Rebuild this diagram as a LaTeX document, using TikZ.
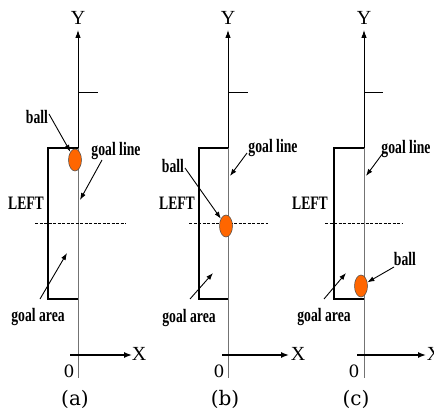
\documentclass[tikz,border=0pt]{standalone}
\usepackage{fontspec}
\setmainfont{Liberation Serif}
\newfontfamily\lblfont[FakeStretch=0.72]{Liberation Serif}
\newfontfamily\capfont{DejaVu Serif}
\usetikzlibrary{arrows.meta,shapes.geometric}
\definecolor{ballorange}{RGB}{255,102,0}
\begin{document}
\begin{tikzpicture}[x=1pt,y=-1pt,
  axisblack/.style={line width=0.9pt,black},
  axisgray/.style={line width=0.7pt,black!55},
  goalbox/.style={line width=1.9pt,black,line join=miter},
  dashln/.style={line width=0.6pt,dashed,dash pattern=on 3pt off 1.5pt},
  arr/.style={line width=0.9pt,-{Latex[length=7pt,width=5pt]}},
  axarr/.style={axisblack,-{Latex[length=8pt,width=5.5pt]}},
  xarr/.style={line width=1.4pt,black,-{Latex[length=8pt,width=6pt]}},
  lbl/.style={font=\lblfont\bfseries\fontsize{19}{19}\selectfont,inner sep=0pt},
  axlbl/.style={font=\fontsize{20}{20}\selectfont,inner sep=0pt},
  zerolbl/.style={font=\capfont\fontsize{17}{17}\selectfont,inner sep=0pt},
  caplbl/.style={font=\capfont\fontsize{20}{20}\selectfont,inner sep=0pt},
  ballst/.style={ellipse,draw=black!70,line width=0.5pt,fill=ballorange,minimum width=13pt,minimum height=22pt,inner sep=0pt}]
\useasboundingbox (0,0) rectangle (434,409);

% ---------- panel (a) ----------
\coordinate (aGT) at (78,148);
\coordinate (aYtop) at (78,30);
\coordinate (aBot) at (78,378);
\draw[axisgray] (aGT) -- (aBot);
\draw[axarr] (aGT) -- (aYtop);
\draw[axisblack] (78,92) -- (98,92);
\node[axlbl] (aY) at (78,18) {Y};
\draw[goalbox] (78,148) -- (48,148) -- (48,299) -- (78,299);
\draw[dashln] (35,223) -- (126,223);
\coordinate (aX0) at (70,355);
\coordinate (aX1) at (132,355);
\draw[xarr] (aX0) -- (aX1);
\node[axlbl] (aX) at (139,354) {X};
\node[zerolbl] (a0) at (69,371) {0};
\node[caplbl] (acap) at (75,399) {(a)};
\node[ballst] (aball) at (75,160) {};
\node[lbl] (aballl) at (37,117) {ball};
\draw[arr] (49,114) -- (aball);
\node[lbl] (agl) at (116,151) {goal line};
\coordinate (aglt) at (102,160);
\coordinate (aglh) at (80,200);
\draw[arr] (aglt) -- (aglh);
\node[lbl] (aleft) at (26,203) {LEFT};
\node[lbl] (aga) at (38,317) {goal area};
\coordinate (agat) at (40,299);
\coordinate (agah) at (67,253);
\draw[arr] (agat) -- (agah);

% ---------- panel (b) ----------
\coordinate (bGT) at (228,148);
\coordinate (bYtop) at (228,30);
\coordinate (bBot) at (228,378);
\draw[axisgray] (bGT) -- (bBot);
\draw[axarr] (bGT) -- (bYtop);
\draw[axisblack] (228,92) -- (248,92);
\node[axlbl] (bY) at (228,18) {Y};
\draw[goalbox] (228,148) -- (199,148) -- (199,299) -- (228,299);
\draw[dashln] (189,223) -- (268,223);
\coordinate (bX0) at (222,355);
\coordinate (bX1) at (289,355);
\draw[xarr] (bX0) -- (bX1);
\node[axlbl] (bX) at (298,354) {X};
\node[zerolbl] (b0) at (219,371) {0};
\node[caplbl] (bcap) at (225,399) {(b)};
\node[ballst] (bball) at (226,226) {};
\node[lbl] (bballl) at (173,166) {ball};
\draw[arr] (185,168) -- (bball);
\node[lbl] (bgl) at (273,148) {goal line};
\coordinate (bglt) at (247,153);
\coordinate (bglh) at (230,176);
\draw[arr] (bglt) -- (bglh);
\node[lbl] (bleft) at (177,203) {LEFT};
\node[lbl] (bga) at (189,318) {goal area};
\coordinate (bgat) at (190,299);
\coordinate (bgah) at (213,273);
\draw[arr] (bgat) -- (bgah);

% ---------- panel (c) ----------
\coordinate (cGT) at (364,148);
\coordinate (cYtop) at (364,30);
\coordinate (cBot) at (364,378);
\draw[axisgray] (cGT) -- (cBot);
\draw[axarr] (cGT) -- (cYtop);
\draw[axisblack] (364,92) -- (383,92);
\node[axlbl] (cY) at (364,18) {Y};
\draw[goalbox] (364,148) -- (334,148) -- (334,299) -- (364,299);
\draw[dashln] (325,223) -- (403,223);
\coordinate (cX0) at (357,355);
\coordinate (cX1) at (426,355);
\draw[xarr] (cX0) -- (cX1);
\node[axlbl] (cX) at (434,354) {X};
\node[zerolbl] (c0) at (354,371) {0};
\node[caplbl] (ccap) at (356,399) {(c)};
\node[ballst] (cball) at (361,286) {};
\node[lbl] (cballl) at (405,259) {ball};
\draw[arr] (394,267) -- (cball);
\node[lbl] (cgl) at (406,149) {goal line};
\coordinate (cglt) at (383,153);
\coordinate (cglh) at (366,176);
\draw[arr] (cglt) -- (cglh);
\node[lbl] (cleft) at (310,203) {LEFT};
\node[lbl] (cga) at (324,317) {goal area};
\coordinate (cgat) at (324,299);
\coordinate (cgah) at (346,273);
\draw[arr] (cgat) -- (cgah);
\end{tikzpicture}
\end{document}
